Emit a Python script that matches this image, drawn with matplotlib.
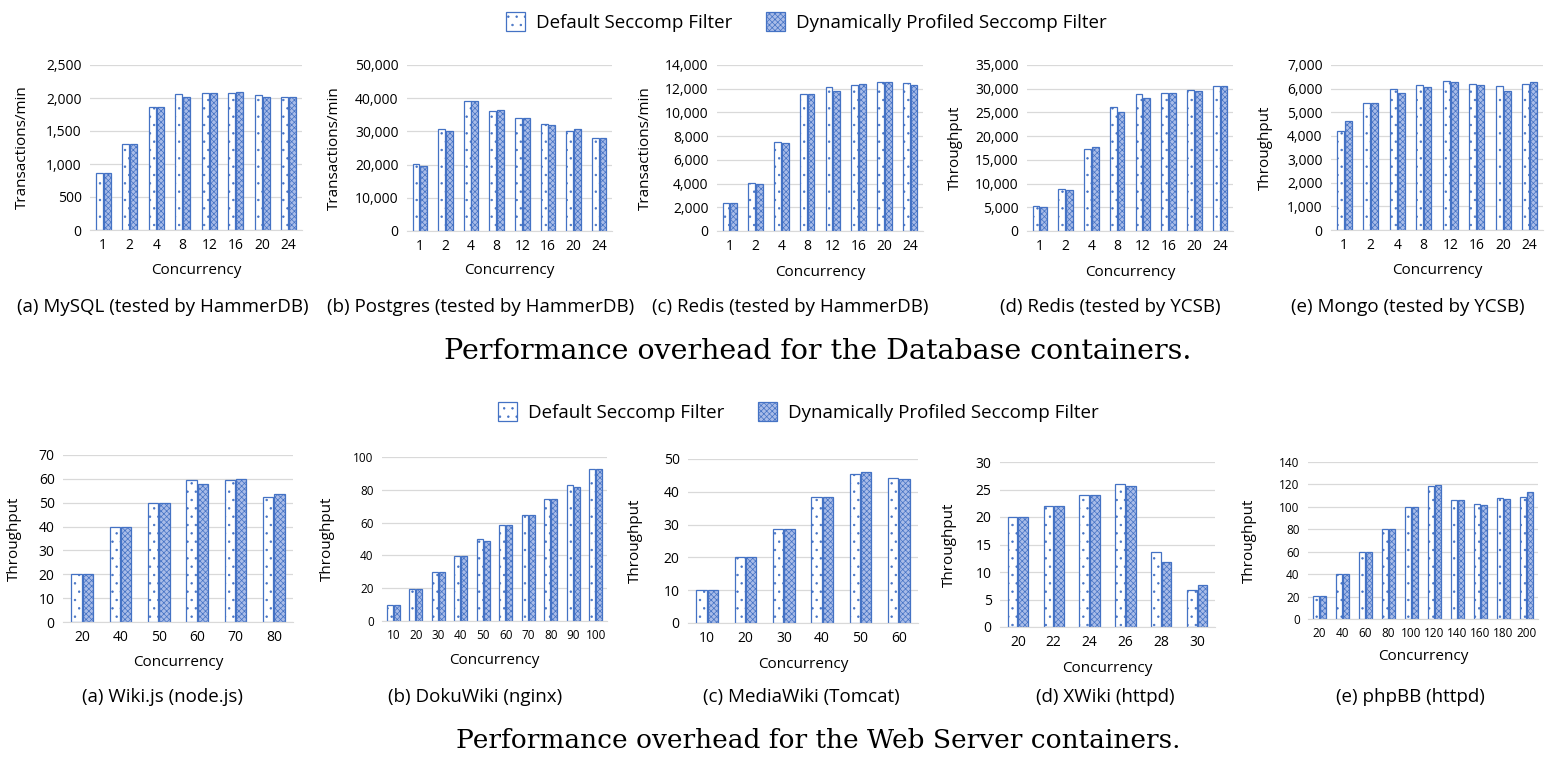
import numpy as np
import matplotlib.pyplot as plt
from matplotlib.ticker import FuncFormatter

# ---- data ----
conc_db = ['1', '2', '4', '8', '12', '16', '20', '24']

mysql_def = [860, 1300, 1860, 2055, 2070, 2070, 2040, 2010]
mysql_dyn = [860, 1300, 1860, 2020, 2070, 2085, 2010, 2010]

postgres_def = [20300, 30700, 39100, 36200, 33900, 32200, 30100, 28000]
postgres_dyn = [19700, 30100, 39100, 36400, 33900, 32000, 30700, 28000]

redis_h_def = [2390, 4080, 7480, 11590, 12150, 12350, 12550, 12460]
redis_h_dyn = [2390, 3990, 7450, 11590, 11790, 12400, 12550, 12290]

redis_y_def = [5270, 8930, 17300, 26230, 28970, 29110, 29750, 30520]
redis_y_dyn = [5060, 8580, 17790, 25180, 27990, 29040, 29610, 30520]

mongo_def = [4215, 5390, 6000, 6170, 6340, 6200, 6120, 6200]
mongo_dyn = [4610, 5390, 5800, 6070, 6290, 6170, 5910, 6290]

wikijs_x = ['20', '40', '50', '60', '70', '80']
wikijs_def = [20, 40, 50, 59.7, 59.7, 52.3]
wikijs_dyn = [20, 40, 50, 57.7, 60, 53.7]

doku_x = ['10', '20', '30', '40', '50', '60', '70', '80', '90', '100']
doku_def = [9.8, 19.8, 29.7, 39.8, 49.8, 58.3, 64.6, 74.2, 82.7, 92.8]
doku_dyn = [9.8, 19.8, 29.7, 39.8, 48.5, 58.3, 64.6, 74.2, 81.8, 92.8]

media_x = ['10', '20', '30', '40', '50', '60']
media_def = [10, 20, 28.7, 38.3, 45.4, 44.2]
media_dyn = [10, 20, 28.7, 38.3, 46.0, 44.0]

xwiki_x = ['20', '22', '24', '26', '28', '30']
xwiki_def = [20, 22, 24, 26, 13.6, 6.8]
xwiki_dyn = [20, 22, 24, 25.7, 11.8, 7.6]

phpbb_x = ['20', '40', '60', '80', '100', '120', '140', '160', '180', '200']
phpbb_def = [20.3, 40, 60, 80, 100, 118.9, 105.8, 102.5, 107.9, 109.1]
phpbb_dyn = [20.3, 40, 60, 80, 100, 119.8, 105.8, 101.6, 107.0, 113.0]

legend_labels = ['Default Seccomp Filter', 'Dynamically Profiled Seccomp Filter']

# ---- style ----
W, H = 1560, 771
plt.rcParams['font.family'] = ['Open Sans', 'DejaVu Sans']
plt.rcParams['hatch.linewidth'] = 0.5
BLUE = '#4472C4'
FILL2 = '#A9BCE8'

fig = plt.figure(figsize=(W / 100, H / 100), dpi=100)


def px_axes(x0, x1, ytop, ybot):
    return fig.add_axes([x0 / W, 1 - ybot / H, (x1 - x0) / W, (ybot - ytop) / H])


def bar_panel(box, cats, d1, d2, ymax, ystep, ylabel, ylab_x, xlab_y,
              caption, cap_x, cap_y, tick_fs=10, comma=False):
    x0, x1, ytop, ybot = box
    ax = px_axes(x0, x1, ytop, ybot)
    x = np.arange(len(cats))
    w = 0.27
    b1 = ax.bar(x - 0.15, d1, w, facecolor='white', edgecolor=BLUE,
                linewidth=0.9, hatch='..')
    b2 = ax.bar(x + 0.15, d2, w, facecolor=FILL2, edgecolor=BLUE,
                linewidth=0.9, hatch='xxxxxx')
    ax.set_xlim(-0.5, len(cats) - 0.5)
    ax.set_ylim(0, ymax)
    ax.set_yticks(np.arange(0, ymax + ystep / 2, ystep))
    if comma:
        ax.yaxis.set_major_formatter(FuncFormatter(lambda v, p: f'{int(v):,}'))
    ax.set_xticks(x)
    ax.set_xticklabels(cats)
    ax.tick_params(length=0, labelsize=tick_fs, pad=6)
    ax.grid(axis='y', color='#d9d9d9', linewidth=0.9)
    ax.set_axisbelow(True)
    for s in ['top', 'right', 'left']:
        ax.spines[s].set_visible(False)
    ax.spines['bottom'].set_color('#d9d9d9')
    ax.set_ylabel(ylabel, fontsize=11)
    ax.yaxis.set_label_coords((ylab_x - x0) / (x1 - x0), 0.5)
    ax.set_xlabel('Concurrency', fontsize=11)
    ax.xaxis.set_label_coords(0.5, 1 - (xlab_y - ytop) / (ybot - ytop))
    ax.xaxis.label.set_va('center')
    fig.text(cap_x / W, 1 - cap_y / H, caption, ha='center', va='center',
             fontsize=13.5)
    return b1, b2


# top row: database containers
h = bar_panel((90, 302, 65, 230), conc_db, mysql_def, mysql_dyn, 2500, 500,
              'Transactions/min', 30, 271, '(a) MySQL (tested by HammerDB)', 163, 307, comma=True)
bar_panel((407, 612, 65, 231), conc_db, postgres_def, postgres_dyn, 50000, 10000,
          'Transactions/min', 342, 271, '(b) Postgres (tested by HammerDB)', 481, 307, comma=True)
bar_panel((717, 923, 65, 231), conc_db, redis_h_def, redis_h_dyn, 14000, 2000,
          'Transactions/min', 653, 272, '(c) Redis (tested by HammerDB)', 790, 307, comma=True)
bar_panel((1027, 1233, 65, 231), conc_db, redis_y_def, redis_y_dyn, 35000, 5000,
          'Throughput', 963, 273, '(d) Redis (tested by YCSB)', 1110, 307, comma=True)
bar_panel((1331, 1543, 65, 230), conc_db, mongo_def, mongo_dyn, 7000, 1000,
          'Throughput', 1273, 271, '(e) Mongo (tested by YCSB)', 1408, 307, comma=True)

# bottom row: web server containers
bar_panel((63, 293, 455, 622), wikijs_x, wikijs_def, wikijs_dyn, 70, 10,
          'Throughput', 22, 662, '(a) Wiki.js (node.js)', 163, 697)
bar_panel((382, 607, 457, 621), doku_x, doku_def, doku_dyn, 100, 20,
          'Throughput', 335, 660, '(b) DokuWiki (nginx)', 475, 697, tick_fs=8.5)
bar_panel((688, 918, 459, 623), media_x, media_def, media_dyn, 50, 10,
          'Throughput', 643, 665, '(c) MediaWiki (Tomcat)', 801, 697)
bar_panel((1000, 1215, 462, 627), xwiki_x, xwiki_def, xwiki_dyn, 30, 5,
          'Throughput', 957, 668, '(d) XWiki (httpd)', 1105, 697)
bar_panel((1308, 1538, 462, 619), phpbb_x, phpbb_def, phpbb_dyn, 140, 20,
          'Throughput', 1257, 657, '(e) phpBB (httpd)', 1410, 697, tick_fs=8.5)

# legends
for ly, lx in [(22, 0.517), (412, 0.512)]:
    fig.legend([h[0], h[1]], legend_labels, loc='center', bbox_to_anchor=(lx, 1 - ly / H),
               ncol=2, frameon=False, fontsize=13.5, handlelength=1.0, handleheight=1.2,
               columnspacing=1.8, handletextpad=0.6)

# row titles
fig.text(818 / W, 1 - 352 / H, 'Performance overhead for the Database containers.',
         ha='center', va='center', fontsize=20.5, family='DejaVu Serif')
fig.text(818 / W, 1 - 740 / H, 'Performance overhead for the Web Server containers.',
         ha='center', va='center', fontsize=19, family='DejaVu Serif')

fig.savefig('out.png', dpi=100)
